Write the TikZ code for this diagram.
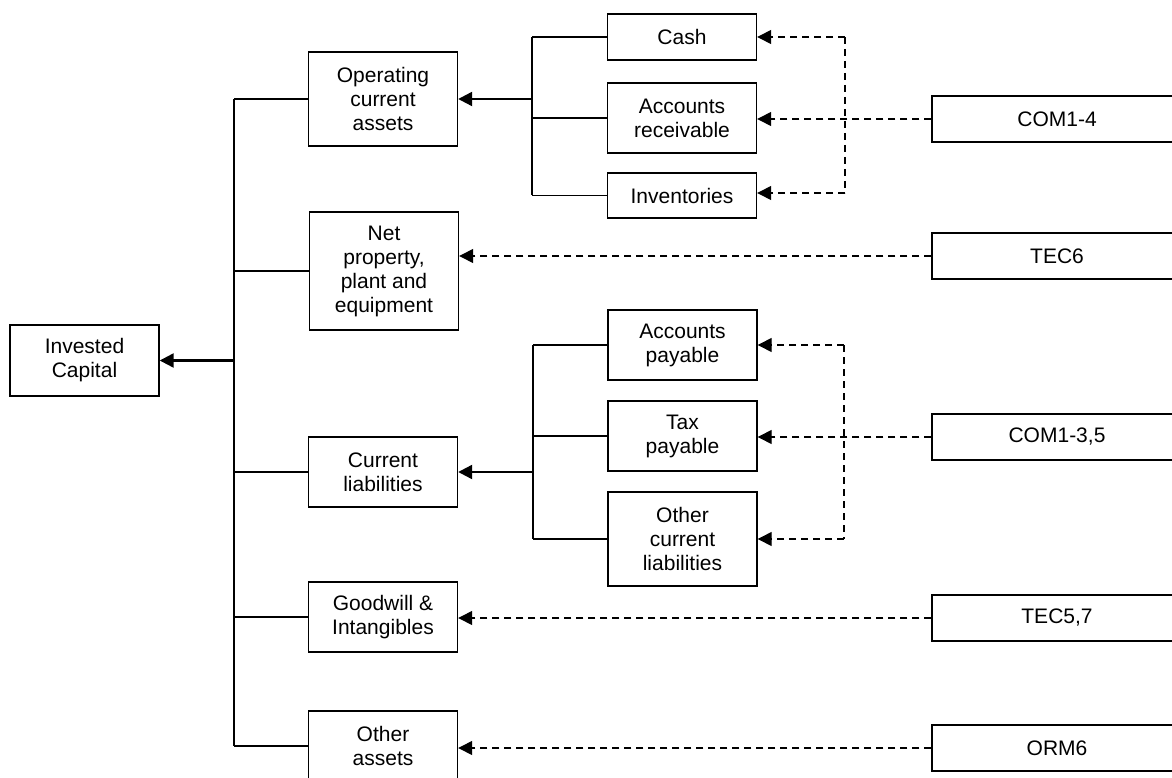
\documentclass[tikz,border=0pt]{standalone}
\usepackage{fontspec}
\setmainfont{Liberation Sans}
\usetikzlibrary{arrows.meta}
\begin{document}
\begin{tikzpicture}[x=1pt,y=-1pt,
  box/.style={draw=black,line width=1.4pt,fill=white,align=center,inner sep=0pt,
    font=\fontsize{21}{24}\selectfont},
  wide/.style={box,minimum width=149pt},
  src/.style={box,minimum width=250pt,minimum height=46pt},
  tline/.style={line width=1.3pt},
  bus/.style={line width=1.7pt},
  feed/.style={line width=2.3pt,-{Triangle[length=14pt,width=14pt]}},
  depline/.style={line width=1.4pt,dash pattern=on 7pt off 5pt},
  dep/.style={depline,-{Triangle[length=14pt,width=14pt]}}]
\useasboundingbox (0,0) rectangle (1172,778);
\clip (0,0) rectangle (1172,778);

% left column
\node[wide,minimum height=71pt] (inv) at (84.5,360.5) {Invested\\Capital};

% middle column
\node[wide,minimum height=94pt] (oca) at (383,99) {Operating\\current\\assets};
\node[wide,minimum height=118pt] (npe) at (384,271) {Net\\property,\\plant and\\equipment};
\node[wide,minimum height=70pt] (cl) at (383,472) {Current\\liabilities};
\node[wide,minimum height=70pt] (gw) at (383,617) {Goodwill \&\\Intangibles};
\node[wide,minimum height=70pt] (oa) at (383,746) {Other\\assets};

% detail column
\node[wide,minimum height=46pt] (cash) at (682,37) {Cash};
\node[wide,minimum height=70pt] (ar) at (682,118) {Accounts\\receivable};
\node[wide,minimum height=45pt] (invt) at (682,195.5) {Inventories};
\node[wide,minimum height=70pt] (ap) at (682.5,345) {Accounts\\payable};
\node[wide,minimum height=70pt] (tp) at (682.5,436) {Tax\\payable};
\node[wide,minimum height=94pt] (ocl) at (682.5,539) {Other\\current\\liabilities};

% source column
\node[src] (com14) at (1057,119) {COM1-4};
\node[src] (tec6) at (1057,256) {TEC6};
\node[src] (com135) at (1057,437) {COM1-3,5};
\node[src] (tec57) at (1057,618) {TEC5,7};
\node[src] (orm6) at (1057,748) {ORM6};

% bus positions
\coordinate (b0) at (234,0);
\coordinate (b1) at (532,0);
\coordinate (b2) at (533,0);
\coordinate (d1) at (845,0);
\coordinate (d2) at (844,0);

% main tree
\draw[bus] (b0 |- oca.west) -- (b0 |- oa.west);
\foreach \n in {oca,npe,cl,gw,oa}
  \draw[tline] (b0 |- \n.west) -- (\n.west);
\draw[feed] (b0 |- inv.east) -- (inv.east);

% operating current assets branch
\draw[tline] (b1 |- cash.west) -- (b1 |- invt.west);
\foreach \n in {cash,ar,invt}
  \draw[tline] (b1 |- \n.west) -- (\n.west);
\draw[feed] (b1 |- oca.east) -- (oca.east);

% current liabilities branch
\draw[tline] (b2 |- ap.west) -- (b2 |- ocl.west);
\foreach \n in {ap,tp,ocl}
  \draw[tline] (b2 |- \n.west) -- (\n.west);
\draw[feed] (b2 |- cl.east) -- (cl.east);

% COM1-4 references
\draw[depline] (d1 |- cash.east) -- (d1 |- 0,193);
\draw[dep] (com14.west) -- (com14.west -| ar.east);
\draw[dep] (d1 |- cash.east) -- (cash.east);
\draw[dep] (d1 |- 0,193) -- (invt.east |- 0,193);

% COM1-3,5 references
\draw[depline] (d2 |- ap.east) -- (d2 |- ocl.east);
\draw[dep] (com135.west) -- (com135.west -| tp.east);
\draw[dep] (d2 |- ap.east) -- (ap.east);
\draw[dep] (d2 |- ocl.east) -- (ocl.east);

% direct references
\draw[dep] (tec6.west) -- (tec6.west -| npe.east);
\draw[dep] (tec57.west) -- (tec57.west -| gw.east);
\draw[dep] (orm6.west) -- (orm6.west -| oa.east);
\end{tikzpicture}
\end{document}
